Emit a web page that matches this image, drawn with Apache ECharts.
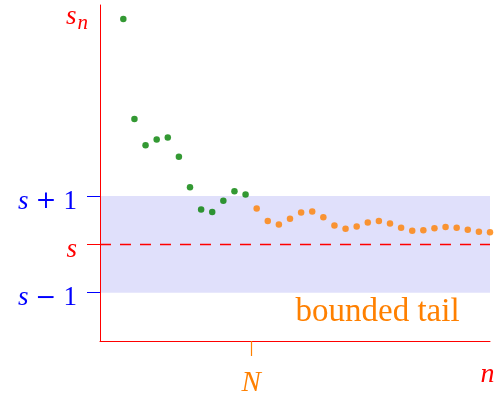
<!DOCTYPE html>
<html><head><meta charset="utf-8">
<script src="https://cdn.jsdelivr.net/npm/echarts@6/dist/echarts.min.js"></script>
<style>html,body{margin:0;padding:0;background:#fff}#c{width:500px;height:398px}</style>
</head><body><div id="c"></div>
<script>
// Data
const headN = [1,2,3,4,5,6,7,8,9,10,11,12];
const headValues = [4.66,2.59,2.05,2.17,2.21,1.81,1.18,0.72,0.67,0.90,1.10,1.03];
const tailN = [13,14,15,16,17,18,19,20,21,22,23,24,25,26,27,28,29,30,31,32,33,34];
const tailValues = [0.74,0.48,0.41,0.53,0.66,0.68,0.56,0.39,0.32,0.37,0.45,0.48,0.43,0.34,0.28,0.29,0.33,0.36,0.34,0.30,0.26,0.25];
const limitS = 0;
const bandHalfWidth = 1;
const indexN = 12.5;
const boundTicks = [-1, 1];
const limitTicks = [0];
const labelTexts = {boundUpper: '{i|s}{o|+}{d|1}', boundLower: '{i|s}{o|\u2212}{d|1}', limit: '{r|s}', N: 'N', n: 'n', s: 's', sub: 'n', tail: 'bounded tail'};

const RED = '#ff0000', BLUE = '#0000ff', GREEN = '#008000', ORANGE = '#ff8000';
const serif = '"Liberation Serif", "Times New Roman", serif';

const chart = echarts.init(document.getElementById('c'), null, {renderer: 'canvas'});
const yRange = {min: -2, max: 4.95};
const richY = {
  i: {fontFamily: serif, fontStyle: 'italic', fontSize: 27, color: BLUE},
  o: {fontFamily: '"DejaVu Serif", serif', fontSize: 25, color: BLUE, padding: [0, 7, 0, 7]},
  d: {fontFamily: serif, fontSize: 27, color: BLUE},
  r: {fontFamily: serif, fontStyle: 'italic', fontSize: 27, color: RED}
};
chart.setOption({
  animation: false,
  grid: {left: 100, right: 10, top: 5, bottom: 51},
  xAxis: {
    type: 'value', min: -1.1, max: 34, z: 5,
    splitLine: {show: false},
    axisLine: {show: true, onZero: false, lineStyle: {color: RED, width: 1}},
    axisTick: {show: true, customValues: [indexN], length: 15, lineStyle: {color: ORANGE, width: 1.2}},
    axisLabel: {show: true, customValues: [indexN], margin: 28, formatter: () => labelTexts.N,
      color: ORANGE, fontFamily: serif, fontStyle: 'italic', fontSize: 29}
  },
  yAxis: [{
    type: 'value', min: yRange.min, max: yRange.max, z: 5,
    splitLine: {show: false},
    axisLine: {show: true, onZero: false, lineStyle: {color: RED, width: 1}},
    axisTick: {show: true, customValues: boundTicks, length: 13, lineStyle: {color: BLUE, width: 1}},
    axisLabel: {show: true, customValues: boundTicks, margin: 23, padding: [11, 0, 0, 0],
      formatter: v => v > 0 ? labelTexts.boundUpper : labelTexts.boundLower, rich: richY}
  }, {
    type: 'value', min: yRange.min, max: yRange.max, position: 'left', z: 5,
    splitLine: {show: false},
    axisLine: {show: false, onZero: false},
    axisTick: {show: true, customValues: limitTicks, length: 13, lineStyle: {color: RED, width: 1}},
    axisLabel: {show: true, customValues: limitTicks, margin: 23, padding: [11, 0, 0, 0],
      formatter: () => labelTexts.limit, rich: richY}
  }],
  graphic: [
    {type: 'text', style: {text: labelTexts.s, x: 66, y: 16.8, textVerticalAlign: 'middle', font: 'italic 27px ' + serif, fill: RED}},
    {type: 'text', style: {text: labelTexts.sub, x: 77.5, y: 23.2, textVerticalAlign: 'middle', font: 'italic 21px ' + serif, fill: RED}},
    {type: 'text', style: {text: labelTexts.n, x: 480.5, y: 374.8, textVerticalAlign: 'middle', font: 'italic 28px ' + serif, fill: RED}},
    {type: 'text', style: {text: labelTexts.tail, x: 295.5, y: 312, textVerticalAlign: 'middle', font: '33px ' + serif, fill: ORANGE}}
  ],
  series: [{
    type: 'scatter', name: 'tail', clip: false, z: 3,
    symbol: 'circle', symbolSize: 6.5,
    itemStyle: {color: ORANGE},
    data: tailN.map((n, i) => [n, tailValues[i]]),
    markArea: {silent: true, z: 1, itemStyle: {color: '#e0e0fb'},
      data: [[{yAxis: limitS - bandHalfWidth}, {yAxis: limitS + bandHalfWidth}]]},
    markLine: {silent: true, symbol: ['none', 'none'], label: {show: false},
      lineStyle: {color: RED, type: [11, 9], width: 1.3},
      data: [{yAxis: limitS}]}
  }, {
    type: 'scatter', name: 'head', clip: false, z: 4,
    symbol: 'circle', symbolSize: 6.5,
    itemStyle: {color: GREEN},
    data: headN.map((n, i) => [n, headValues[i]])
  }]
});
</script></body></html>
